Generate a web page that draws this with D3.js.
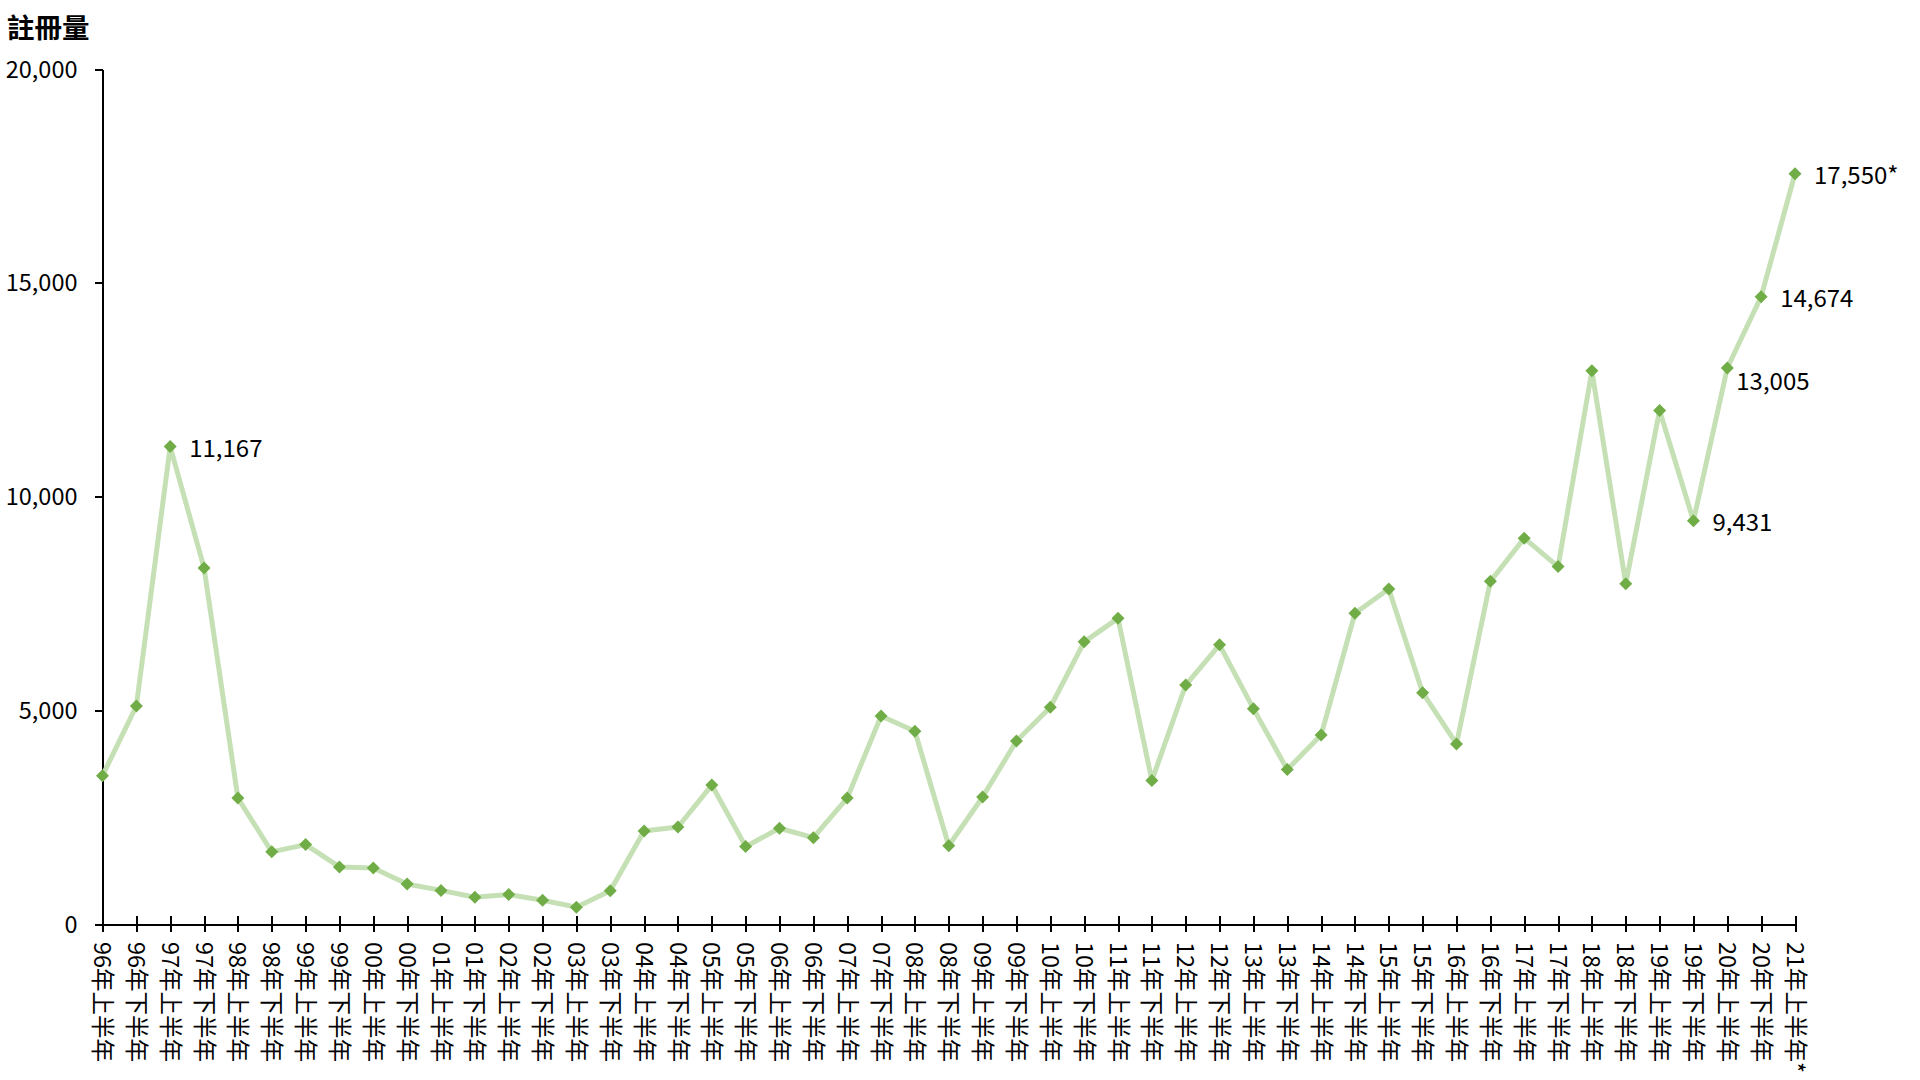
<!DOCTYPE html>
<html>
<head>
<meta charset="utf-8">
<title>註冊量</title>
<script src="https://d3js.org/d3.v7.min.js"></script>
<style>
	body { margin: 0; background: #fff; }
	svg text { font-family: "Noto Sans CJK TC", "Noto Sans", sans-serif; fill: #000; }
	.axis path, .axis line { stroke: #000; stroke-width: 2; shape-rendering: crispEdges; }
</style>
</head>
<body>
<div id="chart"></div>
<script>
// half-year periods
var periods = ["96年上半年", "96年下半年", "97年上半年", "97年下半年", "98年上半年", "98年下半年",
	"99年上半年", "99年下半年", "00年上半年", "00年下半年", "01年上半年", "01年下半年",
	"02年上半年", "02年下半年", "03年上半年", "03年下半年", "04年上半年", "04年下半年",
	"05年上半年", "05年下半年", "06年上半年", "06年下半年", "07年上半年", "07年下半年",
	"08年上半年", "08年下半年", "09年上半年", "09年下半年", "10年上半年", "10年下半年",
	"11年上半年", "11年下半年", "12年上半年", "12年下半年", "13年上半年", "13年下半年",
	"14年上半年", "14年下半年", "15年上半年", "15年下半年", "16年上半年", "16年下半年",
	"17年上半年", "17年下半年", "18年上半年", "18年下半年", "19年上半年", "19年下半年",
	"20年上半年", "20年下半年", "21年上半年*"];

// registrations (labelled ones exact)
var registrations = [3468, 5100, 11167, 8330, 2945, 1688,
	1858, 1335, 1312, 935, 786, 625,
	690, 555, 394, 776, 2177, 2268,
	3250, 1810, 2240, 2020, 2945, 4865,
	4510, 1830, 2970, 4280, 5070, 6600,
	7150, 3355, 5590, 6530, 5038, 3613,
	4420, 7270, 7835, 5410, 4213, 8015,
	9025, 8360, 12940, 7958, 12010, 9431,
	13005, 14674, 17550];

var yTicks = [0, 5000, 10000, 15000, 20000];

// which points get a value label
var labelled = ["97年上半年", "19年下半年", "20年上半年", "20年下半年", "21年上半年*"];
var labelSuffix = { "21年上半年*": "*" };

var width = 1920, height = 1080;
var plotLeft = 102.5, plotRight = 1795, plotTop = 69, plotBottom = 924;

var svg = d3.select("#chart").append("svg")
	.attr("width", width)
	.attr("height", height);

var x = d3.scalePoint().domain(periods).range([plotLeft, plotRight]);
var y = d3.scaleLinear().domain([0, 20000]).range([plotBottom, plotTop]);
var fmt = d3.format(",");

var data = periods.map(function (p, i) {
	return { period: p, value: registrations[i] };
});

// y axis
var yAxis = svg.append("g")
	.attr("class", "axis")
	.attr("transform", "translate(" + plotLeft + ",0)")
	.call(d3.axisLeft(y).tickValues(yTicks).tickFormat(fmt).tickSize(8).tickSizeOuter(0).tickPadding(17));
yAxis.selectAll("text").style("font-size", "23.5px").attr("dy", "0.35em");

// x axis
var xAxis = svg.append("g")
	.attr("class", "axis")
	.attr("transform", "translate(0," + plotBottom + ")")
	.call(d3.axisBottom(x).tickSize(8).tickSizeOuter(0));
xAxis.selectAll(".tick line").attr("y1", -8);
xAxis.selectAll("text")
	.style("font-size", "23.5px")
	.attr("text-anchor", "start")
	.attr("transform", "rotate(90)")
	.attr("x", 18)
	.attr("y", 0)
	.attr("dy", "0.38em");

// y title
svg.append("text")
	.attr("x", 7)
	.attr("y", 38)
	.style("font-size", "27.5px")
	.style("font-weight", "bold")
	.text("註冊量");

// line
var line = d3.line()
	.x(function (d) { return x(d.period); })
	.y(function (d) { return y(d.value); });

svg.append("path")
	.datum(data)
	.attr("fill", "none")
	.attr("stroke", "#c5e0b4")
	.attr("stroke-width", 5)
	.attr("stroke-linejoin", "round")
	.attr("d", line);

// diamond markers
svg.selectAll(".marker")
	.data(data)
	.enter().append("path")
	.attr("class", "marker")
	.attr("fill", "#70ad47")
	.attr("transform", function (d) { return "translate(" + x(d.period) + "," + y(d.value) + ")"; })
	.attr("d", "M0,-6.5L6.5,0L0,6.5L-6.5,0Z");

// value labels
svg.selectAll(".vlabel")
	.data(data.filter(function (d) { return labelled.indexOf(d.period) >= 0; }))
	.enter().append("text")
	.attr("class", "vlabel")
	.style("font-size", "24px")
	.attr("x", function (d) { return x(d.period) + (d.period === "20年上半年" ? 9 : 19); })
	.attr("y", function (d) { return y(d.value) + (d.period === "20年上半年" ? 14 : 2); })
	.attr("dy", "0.35em")
	.text(function (d) { return fmt(d.value) + (labelSuffix[d.period] || ""); });
</script>
</body>
</html>
